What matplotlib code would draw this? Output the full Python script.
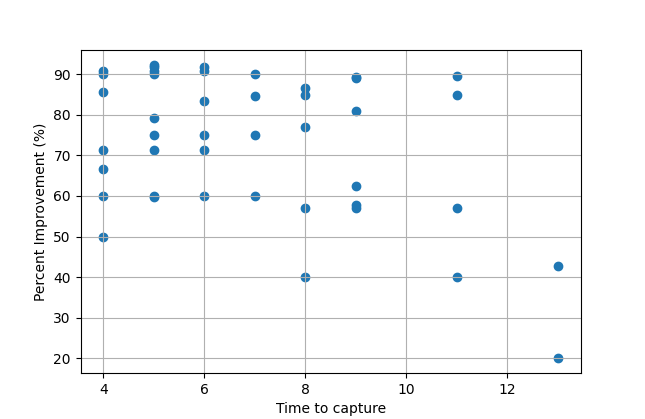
import matplotlib
matplotlib.use("Agg")
import matplotlib.pyplot as plt

# time to capture and percent improvement
time_to_capture = [
    4, 4, 4, 4, 4, 4, 4,
    5, 5, 5, 5, 5, 5, 5, 5, 5,
    6, 6, 6, 6, 6, 6,
    7, 7, 7, 7,
    8, 8, 8, 8, 8,
    9, 9, 9, 9, 9, 9,
    11, 11, 11, 11,
    13, 13,
]
percent_improvement = [
    90.9, 90.0, 85.7, 71.4, 66.7, 60.0, 50.0,
    92.3, 91.7, 90.9, 90.0, 79.2, 75.0, 71.4, 60.0, 59.8,
    91.7, 90.9, 83.3, 75.0, 71.4, 60.0,
    90.0, 84.6, 75.0, 60.0,
    86.5, 85.0, 76.9, 57.1, 40.0,
    89.4, 89.1, 81.0, 62.5, 57.8, 57.1,
    89.5, 84.8, 57.1, 40.0,
    42.7, 20.0,
]


def main():
    fig = plt.figure(figsize=(6.45, 4.19), dpi=100)
    plt.scatter(time_to_capture, percent_improvement)
    plt.xlabel("Time to capture")
    plt.ylabel("Percent Improvement (%)")
    plt.grid(True)
    fig.savefig("out.png", dpi=100)


if __name__ == '__main__':
    main()
